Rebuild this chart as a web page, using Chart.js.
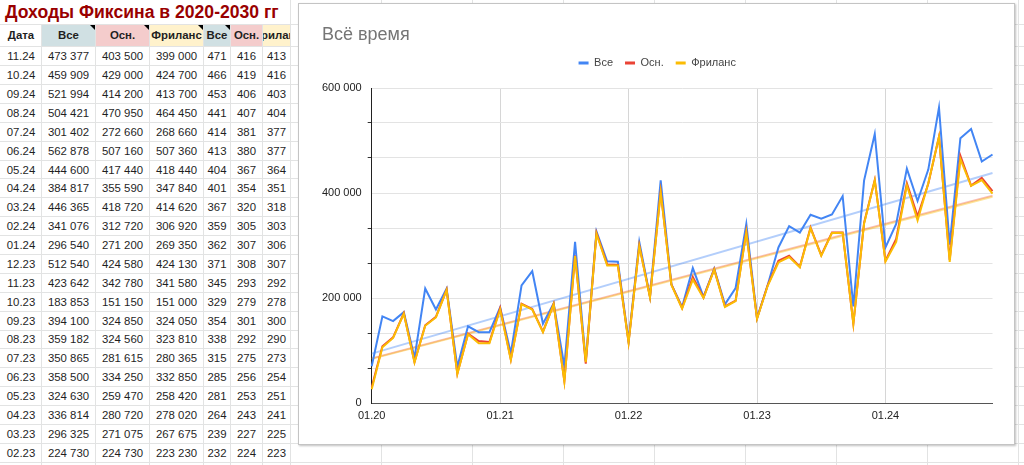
<!DOCTYPE html>
<html>
<head>
<meta charset="utf-8">
<script src="https://cdn.jsdelivr.net/npm/chart.js@4.4.1/dist/chart.umd.min.js"></script>
<style>
  html, body { margin: 0; padding: 0; background: #fff; }
  body { width: 1024px; height: 465px; position: relative; overflow: hidden;
         font-family: Arial, "Liberation Sans", sans-serif; }
  .gl { position: absolute; background: #e2e3e3; }
  .cell { position: absolute; font-size: 11.4px; color: #1f1f1f; white-space: nowrap; overflow: hidden;
          display: flex; justify-content: center; align-items: center; }
  .head { font-weight: bold; }
  .tri { position: absolute; width: 0; height: 0; border-top: 5px solid #000; border-left: 5px solid transparent; }
  #sheetTitle { position: absolute; left: 5px; top: 2px; font-size: 17.6px; font-weight: bold;
                color: #990000; white-space: nowrap; line-height: 20px; }
  #box { position: absolute; left: 298px; top: 3px; width: 715px; height: 440px; background: #fff;
         border: 1px solid #c4c4c4; box-shadow: 1px 1px 2px rgba(0,0,0,0.25); }
</style>
</head>
<body>
<div id="sheet"></div>
<div id="sheetTitle">Доходы Фиксина в 2020-2030 гг</div>
<div id="box"><canvas id="chart"></canvas></div>

<script>
// months 01.20 .. 11.24
const months = [
  '01.20','02.20','03.20','04.20','05.20','06.20','07.20','08.20','09.20','10.20','11.20','12.20',
  '01.21','02.21','03.21','04.21','05.21','06.21','07.21','08.21','09.21','10.21','11.21','12.21',
  '01.22','02.22','03.22','04.22','05.22','06.22','07.22','08.22','09.22','10.22','11.22','12.22',
  '01.23','02.23','03.23','04.23','05.23','06.23','07.23','08.23','09.23','10.23','11.23','12.23',
  '01.24','02.24','03.24','04.24','05.24','06.24','07.24','08.24','09.24','10.24','11.24'
];

// Все
const incomeAll = [
  70000, 165000, 156000, 173000, 86000, 218000, 178000, 218000, 69000, 146000, 135000, 135000,
  182000, 95000, 224000, 251000, 151000, 190000, 70000, 307000, 80000, 327000, 270000, 269000,
  118000, 307000, 203000, 424000, 226000, 183000, 257000, 202000, 256000, 188000, 219000, 341000,
  162000, 224730, 296325, 336814, 324630, 358500, 350865, 359182, 394100, 183853, 423642, 512540,
  296540, 341076, 446365, 384817, 444600, 562878, 301402, 504421, 521994, 459909, 473377
];

// Осн.
const incomeMain = [
  30000, 108000, 125000, 171000, 78000, 148000, 164000, 216000, 56000, 132000, 118000, 116000,
  181000, 83000, 189000, 179000, 136000, 189000, 42000, 281000, 75000, 324000, 264000, 263000,
  116000, 300000, 202000, 403000, 226000, 181000, 240000, 201000, 255000, 184000, 195000, 327000,
  161000, 224730, 271075, 280720, 259470, 334250, 281615, 324560, 324850, 151150, 342780, 424580,
  271200, 312720, 418720, 355590, 417440, 507160, 272660, 470950, 414200, 429000, 403500
];

// Фриланс
const incomeFreelance = [
  26000, 106000, 124000, 170000, 77000, 147000, 163000, 215000, 55000, 131000, 114000, 114000,
  178000, 82000, 188000, 178000, 135000, 188000, 41000, 280000, 78000, 322000, 262000, 262000,
  115000, 299000, 201000, 401000, 225000, 180000, 235000, 200000, 254000, 183000, 194000, 325000,
  160000, 223230, 267675, 278020, 258420, 332850, 280365, 323810, 324050, 151000, 341580, 424130,
  269350, 306920, 414620, 347840, 418440, 507360, 268660, 464450, 413700, 424700, 399000
];

// trend lines, value at 01.20 and at 11.24
const trendAll = [94000, 438000];
const trendMain = [85000, 395000];
const trendFreelance = [84000, 393000];

// right-hand table columns (thousands), rows 11.24 down to 02.23
const avgAll = [471, 466, 453, 441, 414, 413, 404, 401, 367, 359, 362, 371, 345, 329, 354, 338, 315, 285, 281, 264, 239, 232];
const avgMain = [416, 419, 406, 407, 381, 380, 367, 354, 320, 305, 307, 308, 293, 279, 301, 292, 275, 256, 253, 243, 227, 224];
const avgFreelance = [413, 416, 403, 404, 377, 377, 364, 351, 318, 303, 306, 307, 292, 278, 300, 290, 273, 254, 251, 241, 225, 223];

const headers = ['Дата', 'Все', 'Осн.', 'Фриланс', 'Все', 'Осн.', 'Фриланс'];

function fmt(n) {
  return String(n).replace(/\B(?=(\d{3})+(?!\d))/g, ' ');
}

// ---- spreadsheet ----
const sheet = document.getElementById('sheet');
const colEdges = [0, 41, 95, 149, 203, 230, 262, 290];
const farCols = [381, 472, 563, 654, 745, 836, 927, 1018];
const headBg = [null, '#d0e0e3', '#f4cccc', '#fff2cc', '#d0e0e3', '#f4cccc', '#fff2cc'];
const headTop = 24, rowTop = 46.3, rowH = 18.88;

function add(cls, css, text) {
  const d = document.createElement('div');
  d.className = cls;
  Object.assign(d.style, css);
  if (text !== undefined) {
    const s = document.createElement('span');
    s.textContent = text;
    d.appendChild(s);
  }
  sheet.appendChild(d);
  return d;
}

// header backgrounds
for (let c = 1; c < 7; c++) {
  add('gl', {left: colEdges[c] + 'px', top: headTop + 'px', width: (colEdges[c + 1] - colEdges[c]) + 'px',
             height: (rowTop - headTop) + 'px', background: headBg[c]});
}
// grid lines
add('gl', {left: '0px', top: headTop + 'px', width: '1024px', height: '1px'});
for (let k = 0; k <= 22; k++) {
  add('gl', {left: '0px', top: (rowTop + k * rowH) + 'px', width: '1024px', height: '1px'});
}
colEdges.slice(1).forEach((x) => {
  add('gl', {left: x + 'px', top: (x >= 290 ? 0 : headTop) + 'px', width: '1px', height: '465px'});
});
farCols.forEach((x) => add('gl', {left: x + 'px', top: '0px', width: '1px', height: '465px'}));

// header texts
headers.forEach((h, c) => {
  const w = colEdges[c + 1] - colEdges[c];
  add('cell head', {left: (colEdges[c] + 1) + 'px', top: headTop + 'px', width: (w - 1) + 'px',
                    height: (rowTop - headTop) + 'px'}, h);
});
[95, 149, 203, 230].forEach((x) => add('tri', {left: (x - 5) + 'px', top: (headTop + 1) + 'px'}));

// rows
for (let k = 0; k < 22; k++) {
  const i = months.length - 1 - k;
  const vals = [months[i], fmt(incomeAll[i]), fmt(incomeMain[i]), fmt(incomeFreelance[i]),
                avgAll[k], avgMain[k], avgFreelance[k]];
  vals.forEach((v, c) => {
    const w = colEdges[c + 1] - colEdges[c];
    add('cell', {left: (colEdges[c] + 1) + 'px', top: (rowTop + k * rowH + 1) + 'px', width: (w - 1) + 'px',
                 height: (rowH - 1) + 'px'}, String(v));
  });
}

// ---- chart ----
Chart.defaults.font.family = 'Arial, "Liberation Sans", sans-serif';

const legendGap = {
  id: 'legendGap',
  beforeLayout(chart) {
    const lg = chart.legend;
    if (lg && !lg._gapPatched) {
      const fit = lg.fit;
      lg.fit = function () { fit.call(this); this.height += 9.4; };
      lg._gapPatched = true;
    }
  }
};

function trendData(t) {
  return [{x: months[0], y: t[0]}, {x: months[months.length - 1], y: t[1]}];
}

const line = (label, data, color, order, width) => ({
  label, data, borderColor: color, backgroundColor: color,
  borderWidth: width, pointRadius: 0, pointHoverRadius: 0, tension: 0, fill: false, order
});

new Chart(document.getElementById('chart'), {
  type: 'line',
  data: {
    labels: months,
    datasets: [
      line('Все', incomeAll, '#4285f4', 3, 2),
      line('Осн.', incomeMain, '#ea4335', 2, 2),
      line('Фриланс', incomeFreelance, '#fbbc04', 1, 2),
      line('trendAll', trendData(trendAll), 'rgba(66,133,244,0.4)', 6, 2),
      line('trendMain', trendData(trendMain), 'rgba(234,67,53,0.35)', 5, 2),
      line('trendFreelance', trendData(trendFreelance), 'rgba(251,188,4,0.4)', 4, 2)
    ]
  },
  options: {
    responsive: true,
    maintainAspectRatio: false,
    animation: false,
    layout: { padding: { left: 23, right: 21.5, top: 0, bottom: 0 } },
    plugins: {
      tooltip: { enabled: false },
      title: {
        display: true, text: 'Всё время', align: 'start', color: '#757575',
        font: { size: 18, weight: 'normal' }, padding: { top: 20, bottom: 0 }
      },
      legend: {
        position: 'top',
        labels: {
          boxWidth: 10, boxHeight: 3, padding: 12, color: '#444', font: { size: 11 },
          filter: (item) => item.datasetIndex < 3,
          sort: (a, b) => a.datasetIndex - b.datasetIndex,
          generateLabels(chart) {
            const items = Chart.defaults.plugins.legend.labels.generateLabels(chart);
            items.forEach((it) => { it.lineWidth = 0; });
            return items;
          }
        }
      }
    },
    scales: {
      x: {
        offset: false,
        grid: { color: (ctx) => (ctx.index % 12 === 0 ? '#d6d6d6' : 'rgba(0,0,0,0)'), drawTicks: false },
        border: { color: '#555' },
        ticks: {
          autoSkip: false, maxRotation: 0, padding: 6, color: '#222', font: { size: 11 },
          callback: (v, i) => (i % 12 === 0 ? months[i] : '')
        },
        afterFit: (s) => { s.height = 41; }
      },
      y: {
        min: 0, max: 600000,
        grid: {
          color: '#e3e3e3', tickLength: 4,
          tickColor: (ctx) => (ctx.tick && Math.round(ctx.tick.value / 1000) % 200 === 0 ? 'rgba(0,0,0,0)' : '#333')
        },
        border: { color: '#222' },
        ticks: {
          count: 10, padding: 6, color: '#222', font: { size: 11 },
          callback: (v) => {
            const k = Math.round(v / 1000);
            return k % 200 === 0 ? fmt(k * 1000) : '';
          }
        },
        afterFit: (s) => { s.width = 49.7; }
      }
    }
  },
  plugins: [legendGap]
});
</script>
</body>
</html>
